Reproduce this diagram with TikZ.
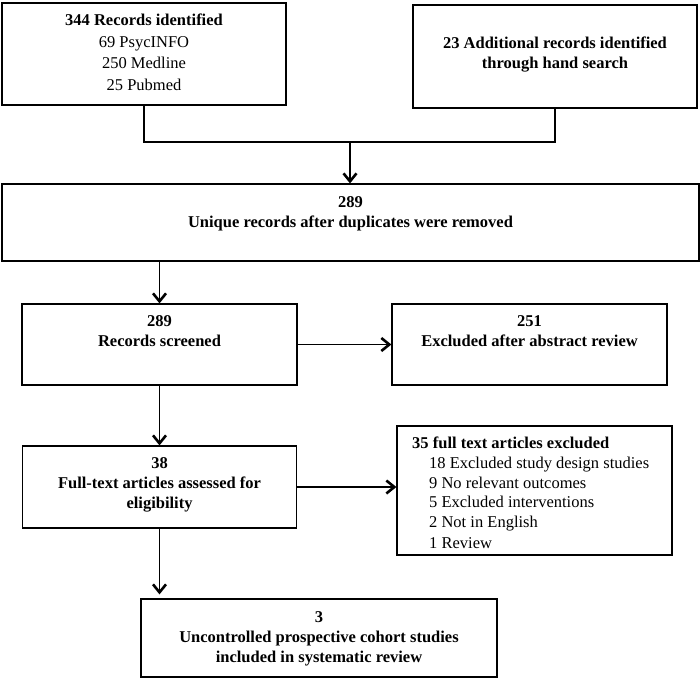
\documentclass[tikz,border=0pt]{standalone}
\usepackage{fontspec}
\setmainfont{Liberation Serif}
\usetikzlibrary{arrows.meta}
\begin{document}
\begin{tikzpicture}[x=1pt,y=-1pt,
  box/.style={draw, line width=1.2pt, inner sep=0pt},
  txt/.style={inner sep=0pt, align=center, anchor=north, font=\fontsize{16.5}{20}\selectfont\bfseries},
  arr/.style={line width=1.4pt, -{Straight Barb[length=8pt,width=13pt,line width=2.6pt]}},
  ln/.style={line width=1.4pt}]
\useasboundingbox (0,0) rectangle (700,680);
% boxes
\node[box, minimum width=284pt, minimum height=102pt] (A) at (144,54) {};
\node[box, minimum width=284pt, minimum height=103pt] (B) at (555,56.5) {};
\node[box, minimum width=697pt, minimum height=77pt] (C) at (350.5,222.5) {};
\node[box, minimum width=275pt, minimum height=81pt] (D) at (159.5,344.5) {};
\node[box, minimum width=275pt, minimum height=81pt] (E) at (529.5,344.5) {};
\node[box, minimum width=274pt, minimum height=82pt] (F) at (159.5,487) {};
\node[box, minimum width=275pt, minimum height=129pt] (G) at (534.5,490.5) {};
\node[box, minimum width=356pt, minimum height=78pt] (H) at (319,638) {};
% texts
\node[txt, font=\fontsize{16.5}{21.5}\selectfont] (tA) at (144,14) {\textbf{344 Records identified}\\69 PsycINFO\\250 Medline\\25 Pubmed};
\node[txt] (tB) at (555,37) {23 Additional records identified\\through hand search};
\node[txt] (tC) at (350.5,196) {289\\Unique records after duplicates were removed};
\node[txt] (tD) at (159.5,315) {289\\Records screened};
\node[txt] (tE) at (529.5,315) {251\\Excluded after abstract review};
\node[txt] (tF) at (159.5,457) {38\\Full-text articles assessed for\\eligibility};
\node[txt, align=left, anchor=north west, font=\fontsize{16.5}{19.6}\selectfont] (tG) at (412,437) {\textbf{35 full text articles excluded}\\
  \hspace*{17pt}18 Excluded study design studies\\
  \hspace*{17pt}9 No relevant outcomes\\
  \hspace*{17pt}5 Excluded interventions\\
  \hspace*{17pt}2 Not in English\\[2pt]
  \hspace*{17pt}1 Review};
\node[txt] (tH) at (319,611) {3\\Uncontrolled prospective cohort studies\\included in systematic review};
% connectors
\coordinate (j) at (350,142);
\draw[ln] (A.south) -- (A.south |- j) -- (B.south |- j) -- (B.south);
\draw[arr] (j) -- (j |- C.north);
\draw[arr] (C.south -| D.north) -- (D.north);
\draw[arr] (D.east) -- (E.west);
\draw[arr] (D.south) -- (F.north);
\draw[arr] (F.east) -- (F.east -| G.west);
\draw[arr, shorten >=4pt] (F.south) -- (F.south |- H.north);
\end{tikzpicture}
\end{document}
